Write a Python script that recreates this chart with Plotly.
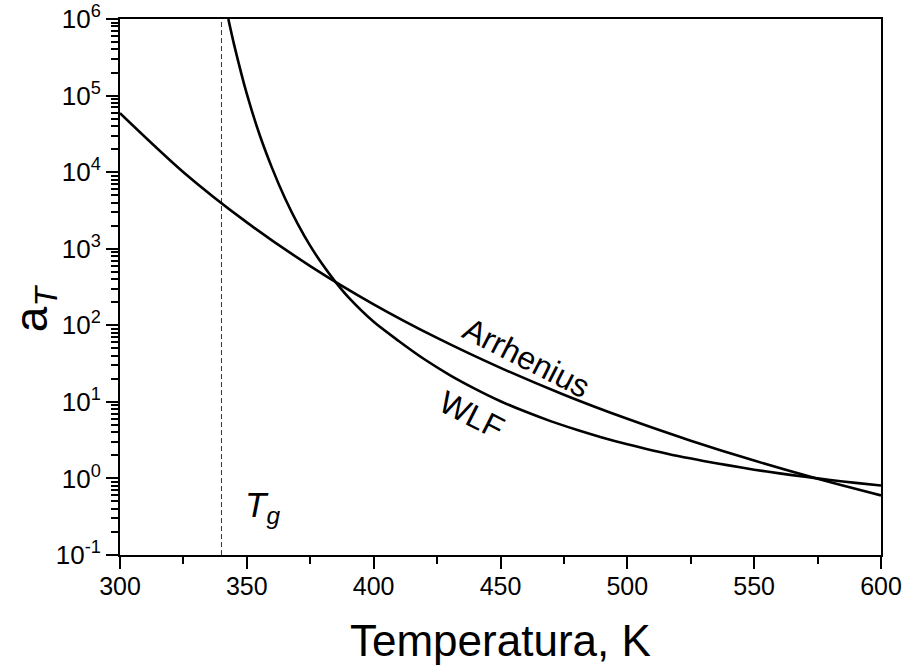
import plotly.graph_objects as go

# Temperature (K) and shift factors
T_wlf = [342.7, 345, 350, 355, 360, 365, 370, 375, 380, 385, 390, 400, 410, 420,
         430, 440, 450, 460, 470, 480, 490, 500, 510, 520, 530, 540, 550, 560,
         570, 580, 590, 600]
aT_wlf = [1.0e6, 4.6e5, 1.05e5, 3.1e4, 1.12e4, 4.6e3, 2.13e3, 1.09e3, 611, 366, 233,
          111, 62, 36, 22.4, 14.8, 10.2, 7.41, 5.56, 4.32, 3.43, 2.79, 2.32, 1.96,
          1.69, 1.48, 1.30, 1.164, 1.05, 0.955, 0.875, 0.807]

T_arr = [300, 325, 350, 375, 400, 425, 450, 475, 500, 525, 550, 575, 600]
aT_arr = [5.9e4, 1.0e4, 2210, 594, 188, 68.4, 27.8, 12.4, 6.0, 3.11, 1.71, 0.99, 0.60]

Tg = 340
x_ticks = [300, 350, 400, 450, 500, 550, 600]
y_exponents = [-1, 0, 1, 2, 3, 4, 5, 6]

FONT = "Liberation Sans, Arial, sans-serif"

fig = go.Figure()
fig.add_trace(go.Scatter(x=[Tg, Tg], y=[0.1, 1e6], mode="lines",
                         line=dict(color="#333333", width=1, dash="5px,3px"),
                         showlegend=False, hoverinfo="skip"))
fig.add_trace(go.Scatter(x=T_arr, y=aT_arr, mode="lines",
                         line=dict(color="black", width=2.6, shape="spline", smoothing=0.8),
                         showlegend=False))
fig.add_trace(go.Scatter(x=T_wlf, y=aT_wlf, mode="lines",
                         line=dict(color="black", width=2.6, shape="spline", smoothing=0.8),
                         showlegend=False))

fig.update_layout(
    width=906, height=669,
    margin=dict(l=120, r=25, t=19, b=114, autoexpand=False),
    paper_bgcolor="white", plot_bgcolor="white",
    font=dict(family=FONT, color="black"),
    showlegend=False,
)

fig.update_xaxes(
    range=[300, 600], showgrid=False, zeroline=False, automargin=False,
    showline=True, linecolor="black", linewidth=2, mirror=True,
    tickvals=x_ticks, ticktext=[str(v) for v in x_ticks],
    ticks="outside", ticklen=12, tickwidth=2, tickcolor="black",
    tickfont=dict(size=25, family=FONT, color="black"),
    ticklabelstandoff=-4,
    minor=dict(dtick=25, ticks="outside", ticklen=7, tickwidth=2, tickcolor="black", showgrid=False),
)
fig.update_yaxes(
    type="log", range=[-1, 6], showgrid=False, zeroline=False, automargin=False,
    showline=True, linecolor="black", linewidth=2, mirror=True,
    tickvals=[10 ** e for e in y_exponents],
    ticktext=[f"10<sup>{e}</sup>" for e in y_exponents],
    ticks="outside", ticklen=12, tickwidth=2, tickcolor="black",
    tickfont=dict(size=26, family=FONT, color="black"),
    minor=dict(dtick="D1", ticks="outside", ticklen=7, tickwidth=2, tickcolor="black", showgrid=False),
)

annotations = [
    dict(text="Temperatura, K", xref="paper", yref="paper", x=0.5, y=-0.16,
         xanchor="center", yanchor="middle", showarrow=False,
         font=dict(size=44, family=FONT, color="black")),
    dict(text="a<sub><i>T</i></sub>", xref="paper", yref="paper", x=-0.112, y=0.46,
         xanchor="center", yanchor="middle", showarrow=False, textangle=-90,
         font=dict(size=46, family=FONT, color="black")),
    dict(text="Arrhenius", x=460.4, y=1.574, xref="x", yref="y",
         xanchor="center", yanchor="middle", showarrow=False, textangle=27,
         font=dict(size=32, family=FONT, color="black")),
    dict(text="WLF", x=438.7, y=0.83, xref="x", yref="y",
         xanchor="center", yanchor="middle", showarrow=False, textangle=27,
         font=dict(size=32, family=FONT, color="black")),
    dict(text="<i>T<sub>g</sub></i>", x=356, y=-0.37, xref="x", yref="y",
         xanchor="center", yanchor="middle", showarrow=False,
         font=dict(size=35, family=FONT, color="black")),
]
fig.update_layout(annotations=annotations)

fig.write_html("out.html")
